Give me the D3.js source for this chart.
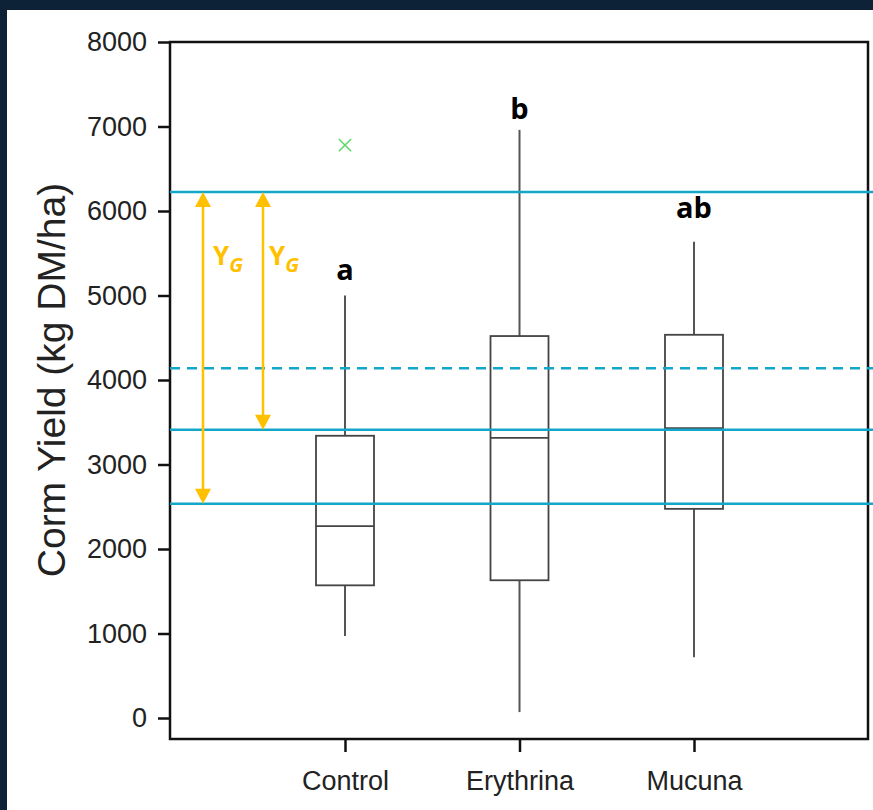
<!DOCTYPE html>
<html>
<head>
<meta charset="utf-8">
<script src="https://cdn.jsdelivr.net/npm/d3@7"></script>
<style>
  html, body { margin: 0; padding: 0; background: #0d2137; }
  svg { display: block; }
</style>
</head>
<body>
<svg id="chart" width="873" height="810"></svg>
<script>
// data
const categories = ["Control", "Erythrina", "Mucuna"];
const whiskerLow = [970, 70, 720];
const q1 = [1570, 1630, 2475];
const median = [2270, 3315, 3430];
const q3 = [3340, 4520, 4535];
const whiskerHigh = [5000, 6960, 5635];
const letters = ["a", "b", "ab"];
const letterAt = [5180, 7090, 5920];
const outliers = [{ cat: "Control", value: 6780 }];
const refLines = [
  { value: 6225, dashed: false },
  { value: 4140, dashed: true },
  { value: 3410, dashed: false },
  { value: 2535, dashed: false }
];
const gapArrows = [
  { from: 6225, to: 2535 },
  { from: 6225, to: 3410 }
];
const yTicks = [0, 1000, 2000, 3000, 4000, 5000, 6000, 7000, 8000];

const W = 873, H = 810;
const M = { left: 170, right: 868, top: 42, bottom: 739 };
const FONT = "'Liberation Sans', Arial, sans-serif";
const svg = d3.select("#chart");

// white page with navy border top/left
svg.append("rect").attr("x", 7).attr("y", 10).attr("width", W - 7).attr("height", H - 10).attr("fill", "#fff");

const y = d3.scaleLinear().domain([0, 8000]).range([718, 42]);
const x = d3.scalePoint().domain(categories).range([345, 694]);
const boxW = 58;

// y axis
const yAxis = svg.append("g")
  .attr("transform", `translate(${M.left},0)`)
  .call(d3.axisLeft(y).tickValues(yTicks).tickSize(12).tickPadding(11).tickFormat(d3.format("d")));
yAxis.select(".domain").remove();
yAxis.selectAll("line").attr("stroke", "#111").attr("stroke-width", 2.5);
yAxis.selectAll("text").attr("font-family", FONT).attr("font-size", 27).attr("fill", "#222");

// x axis
const xAxis = svg.append("g")
  .attr("transform", `translate(0,${M.bottom})`)
  .call(d3.axisBottom(x).tickSize(13).tickPadding(19));
xAxis.select(".domain").remove();
xAxis.selectAll("line").attr("stroke", "#111").attr("stroke-width", 2.5);
xAxis.selectAll("text").attr("font-family", FONT).attr("font-size", 27).attr("fill", "#222");

// frame
svg.append("rect")
  .attr("x", M.left).attr("y", M.top)
  .attr("width", M.right - M.left).attr("height", M.bottom - M.top)
  .attr("fill", "none").attr("stroke", "#111").attr("stroke-width", 2.5);

// axis title
svg.append("text")
  .attr("transform", `translate(65,${(y(0) + y(8000)) / 2}) rotate(-90)`)
  .attr("text-anchor", "middle")
  .attr("font-family", FONT)
  .attr("font-size", 39)
  .attr("fill", "#222")
  .text("Corm Yield (kg DM/ha)");

// boxes
const boxes = categories.map((c, i) => ({
  cat: c, lo: whiskerLow[i], q1: q1[i], med: median[i], q3: q3[i], hi: whiskerHigh[i],
  letter: letters[i], letterAt: letterAt[i]
}));

const bg = svg.append("g").selectAll("g").data(boxes).join("g")
  .attr("transform", d => `translate(${x(d.cat)},0)`);

bg.append("line").attr("y1", d => y(d.hi)).attr("y2", d => y(d.q3))
  .attr("stroke", "#555").attr("stroke-width", 2);
bg.append("line").attr("y1", d => y(d.q1)).attr("y2", d => y(d.lo))
  .attr("stroke", "#555").attr("stroke-width", 2);
bg.append("rect")
  .attr("x", -boxW / 2).attr("width", boxW)
  .attr("y", d => y(d.q3)).attr("height", d => y(d.q1) - y(d.q3))
  .attr("fill", "none").attr("stroke", "#444").attr("stroke-width", 1.8);
bg.append("line").attr("x1", -boxW / 2).attr("x2", boxW / 2)
  .attr("y1", d => y(d.med)).attr("y2", d => y(d.med))
  .attr("stroke", "#444").attr("stroke-width", 1.8);
bg.append("text")
  .attr("y", d => y(d.letterAt))
  .attr("text-anchor", "middle")
  .attr("font-family", "'Open Sans', sans-serif")
  .attr("font-weight", "bold")
  .attr("font-size", 29)
  .attr("fill", "#000")
  .text(d => d.letter);

// outliers
svg.append("g").selectAll("path").data(outliers).join("path")
  .attr("transform", d => `translate(${x(d.cat)},${y(d.value)})`)
  .attr("d", d3.symbol(d3.symbolX, 100))
  .attr("stroke", "#5fd86a").attr("stroke-width", 1.6).attr("fill", "none");

// reference lines
svg.append("g").selectAll("line").data(refLines).join("line")
  .attr("x1", M.left).attr("x2", W)
  .attr("y1", d => y(d.value)).attr("y2", d => y(d.value))
  .attr("stroke", "#12a6c8").attr("stroke-width", 2.5)
  .attr("stroke-dasharray", d => d.dashed ? "10,7" : null);

// gap arrows
const gold = "#ffc000";
const arrowX = [203, 263];
const labelDx = [10, 6];
const ag = svg.append("g").selectAll("g").data(gapArrows).join("g")
  .attr("transform", (d, i) => `translate(${arrowX[i]},0)`);
const head = 8, headLen = 14;
ag.append("line")
  .attr("y1", d => y(d.from) + headLen).attr("y2", d => y(d.to) - headLen)
  .attr("stroke", gold).attr("stroke-width", 2.5);
ag.append("path")
  .attr("d", d => `M0,${y(d.from)} L${-head},${y(d.from) + headLen + 1} L${head},${y(d.from) + headLen + 1} Z`)
  .attr("fill", gold);
ag.append("path")
  .attr("d", d => `M0,${y(d.to)} L${-head},${y(d.to) - headLen - 1} L${head},${y(d.to) - headLen - 1} Z`)
  .attr("fill", gold);
const lbl = ag.append("text")
  .attr("x", (d, i) => labelDx[i]).attr("y", 265)
  .attr("font-family", "'Open Sans', sans-serif")
  .attr("font-weight", "bold")
  .attr("fill", gold);
lbl.append("tspan").attr("font-size", 26).text("Y");
lbl.append("tspan").attr("font-size", 20).attr("font-style", "italic").attr("dy", 7).text("G");
</script>
</body>
</html>
